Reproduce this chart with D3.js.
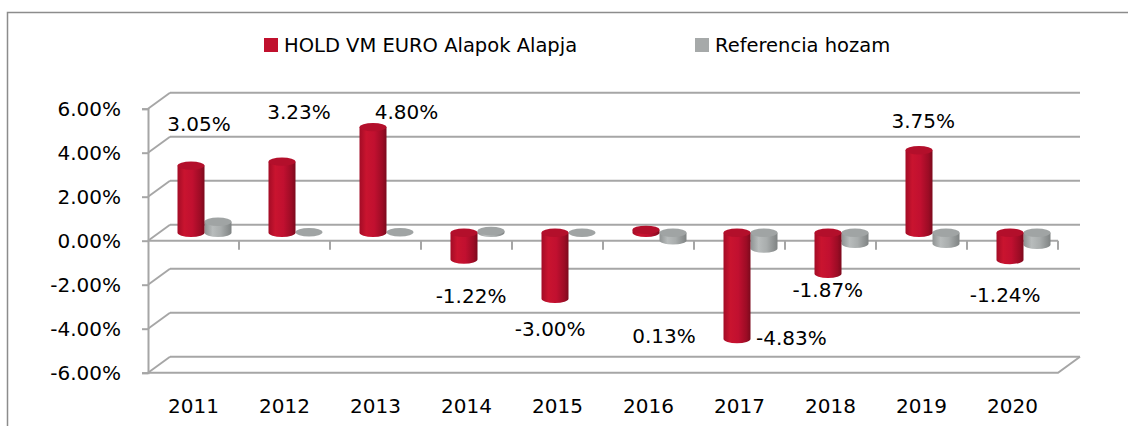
<!DOCTYPE html>
<html lang="hu">
  <head>
    <meta charset="UTF-8" />
    <title>HOLD VM EURO Alapok Alapja</title>
    <script src="https://d3js.org/d3.v7.min.js"></script>
    <style>
      body { margin: 0; background: #fff; }
      text { font-family: "DejaVu Sans", sans-serif; fill: #000; }
    </style>
  </head>
  <body>
    <div id="chart"></div>
    <script>
      // values
      var years = ["2011", "2012", "2013", "2014", "2015", "2016", "2017", "2018", "2019", "2020"];
      var fund = [3.05, 3.23, 4.8, -1.22, -3.0, 0.13, -4.83, -1.87, 3.75, -1.24];
      var bench = [0.5, 0.02, 0.02, 0.08, -0.02, -0.35, -0.72, -0.5, -0.5, -0.55];
      var yTicks = [-6, -4, -2, 0, 2, 4, 6];
      var seriesNames = ["HOLD VM EURO Alapok Alapja", "Referencia hozam"];
      // where Excel put the data labels: shift inside the band, and value level
      var labelShift = [0.06, 0.16, 0.34, 0.05, -0.08, 0.17, 0.57, -0.03, 0.02, -0.08];
      var labelLevel = [5.3, 5.85, 5.85, -2.5, -4.0, -4.33, -4.43, -2.23, 5.45, -2.47];

      var width = 1128, height = 426;
      var dx = 22, dy = -16;       // depth of the 3d box
      var rx = 13.5, ry = 4.2;     // cylinder radii
      var grid = "#a6a6a6";

      var svg = d3.select("#chart").append("svg")
        .attr("width", width)
        .attr("height", height);

      svg.append("rect")
        .attr("x", 7.5).attr("y", 12.5)
        .attr("width", 1300).attr("height", 600)
        .attr("fill", "none")
        .attr("stroke", "#8c8c8c")
        .attr("stroke-width", 1.5);

      var x = d3.scaleBand().domain(years).range([148, 1058]);
      var y = d3.scaleLinear().domain([-6, 6]).range([372.7, 108.7]);
      var x0 = x.range()[0], x1 = x.range()[1];

      var defs = svg.append("defs");
      function grad(id, stops) {
        var g = defs.append("linearGradient").attr("id", id)
          .attr("x1", "0%").attr("x2", "100%").attr("y1", "0%").attr("y2", "0%");
        stops.forEach(function (s) {
          g.append("stop").attr("offset", s[0]).attr("stop-color", s[1]);
        });
      }
      grad("red", [["0%", "#a30c26"], ["25%", "#c9142f"], ["55%", "#c11030"], ["85%", "#9c0c25"], ["100%", "#7c0a1d"]]);
      grad("gray", [["0%", "#8f9393"], ["30%", "#b8bcbc"], ["60%", "#a9adad"], ["100%", "#7f8383"]]);

      // back wall and side wall gridlines
      var walls = svg.append("g").attr("stroke", grid).attr("stroke-width", 2).attr("fill", "none");
      walls.selectAll(".back").data(yTicks).join("line")
        .attr("x1", x0 + dx).attr("x2", x1 + dx)
        .attr("y1", function (d) { return y(d) + dy; })
        .attr("y2", function (d) { return y(d) + dy; });
      walls.selectAll(".side").data(yTicks).join("line")
        .attr("x1", x0).attr("x2", x0 + dx)
        .attr("y1", function (d) { return y(d); })
        .attr("y2", function (d) { return y(d) + dy; });
      // floor edge
      walls.append("path")
        .attr("d", "M" + x0 + "," + y(-6) + "H" + x1 + "l" + dx + "," + dy);

      // category line at zero with ticks on the band edges
      var edges = years.map(function (d) { return x(d); }).concat([x1]);
      walls.append("line")
        .attr("x1", x0).attr("x2", x1)
        .attr("y1", y(0)).attr("y2", y(0));
      walls.selectAll(".tick").data(edges.slice(1)).join("line")
        .attr("x1", function (d) { return d; }).attr("x2", function (d) { return d; })
        .attr("y1", y(0)).attr("y2", y(0) + 9);

      // value axis
      var yAxis = svg.append("g")
        .attr("transform", "translate(" + x0 + ",0)")
        .call(d3.axisLeft(y).tickValues(yTicks).tickSizeOuter(0).tickSize(6).tickPadding(21)
          .tickFormat(function (d) { return d.toFixed(2) + "%"; }));
      yAxis.selectAll("path, line").attr("stroke", grid).attr("stroke-width", 2);
      yAxis.selectAll("text").style("font-size", "20px").style("font-family", "DejaVu Sans");

      // year labels
      var xAxis = svg.append("g")
        .attr("transform", "translate(0,395)")
        .call(d3.axisBottom(x).tickSize(0).tickPadding(4));
      xAxis.select(".domain").remove();
      xAxis.selectAll("text").style("font-size", "20px").style("font-family", "DejaVu Sans");

      function cylinder(g, cx, v, fill, top) {
        var ya = y(0) + dy / 2, yb = y(v) + dy / 2;
        var t = Math.min(ya, yb), b = Math.max(ya, yb);
        if (b - t > 0.8) {
          g.append("path")
            .attr("d", "M" + (cx - rx) + "," + t + "V" + b +
              "A" + rx + "," + ry + " 0 0 0 " + (cx + rx) + "," + b + "V" + t + "Z")
            .attr("fill", fill);
        }
        g.append("ellipse")
          .attr("cx", cx).attr("cy", t)
          .attr("rx", rx).attr("ry", ry)
          .attr("fill", top);
      }

      var bars = svg.append("g");
      years.forEach(function (d, i) {
        var c = x(d) + x.bandwidth() / 2 + dx / 2;
        cylinder(bars, c + rx, bench[i], "url(#gray)", "#a0a4a4");
        cylinder(bars, c - rx, fund[i], "url(#red)", "#b30f2b");
      });

      // data labels
      svg.append("g").selectAll("text").data(fund).join("text")
        .attr("x", function (d, i) { return x(years[i]) + x.bandwidth() * (0.5 + labelShift[i]); })
        .attr("y", function (d, i) { return y(labelLevel[i]) + 7; })
        .attr("text-anchor", "middle")
        .style("font-size", "20px")
        .text(function (d) { return d.toFixed(2) + "%"; });

      // legend
      var legend = svg.append("g");
      var lx = [264, 695];
      var colors = ["#c0102d", "#a6a9a9"];
      seriesNames.forEach(function (name, i) {
        legend.append("rect")
          .attr("x", lx[i]).attr("y", 38)
          .attr("width", 14).attr("height", 14)
          .attr("fill", colors[i]);
        legend.append("text")
          .attr("x", lx[i] + 20).attr("y", 52)
          .style("font-size", "19.5px")
          .text(name);
      });
    </script>
  </body>
</html>
